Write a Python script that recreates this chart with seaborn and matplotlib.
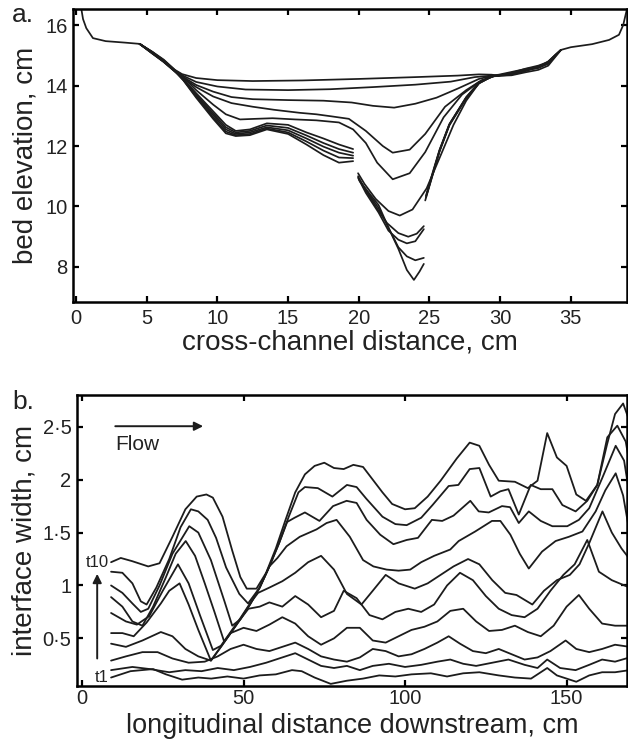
import numpy as np
import matplotlib
matplotlib.use("Agg")
import matplotlib.pyplot as plt
import seaborn as sns

# ---------------- Panel a data: cross-channel bed profiles ----------------
bank_left_x = [0.37, 0.5, 0.73, 1.2, 2.1, 3.5, 4.5]
bank_left_y = [16.56, 16.2, 15.9, 15.57, 15.47, 15.42, 15.38]
bank_right_x = [29.9, 30.8, 31.8, 32.7, 33.2, 33.9, 34.3, 35.0, 36.5, 37.7, 38.4, 38.7, 38.95]
bank_right_y = [14.33, 14.4, 14.52, 14.58, 14.69, 15.02, 15.18, 15.27, 15.37, 15.51, 15.68, 16.0, 16.5]

prof1_x = [4.5, 5.4, 6.2, 7.0, 7.5, 8.5, 10, 12.5, 16, 20, 24, 27, 28.5, 29.4, 29.9]
prof1_y = [15.38, 15.12, 14.86, 14.52, 14.38, 14.25, 14.18, 14.15, 14.17, 14.22, 14.28, 14.33, 14.37, 14.36, 14.33]
prof2_x = [4.5, 5.4, 6.2, 7.0, 7.6, 8.5, 10, 12, 15, 18, 21, 24, 26.5, 28.2, 29.4, 29.9, 30.8, 31.8, 32.7, 33.4, 34.3]
prof2_y = [15.38, 15.08, 14.82, 14.5, 14.32, 14.12, 13.97, 13.87, 13.85, 13.88, 13.95, 14.03, 14.13, 14.28, 14.33, 14.36, 14.45, 14.55, 14.62, 14.8, 15.18]
prof3_x = [4.5, 5.4, 6.2, 7.0, 7.6, 8.5, 9.7, 11, 12.5, 15, 17.5, 19.5, 21, 22.5, 24, 25.5, 27, 28.5, 29.4, 29.9]
prof3_y = [15.38, 15.1, 14.8, 14.48, 14.28, 14.02, 13.8, 13.62, 13.55, 13.52, 13.5, 13.44, 13.33, 13.27, 13.4, 13.6, 13.9, 14.22, 14.32, 14.33]
prof4_x = [4.5, 5.4, 6.2, 7.0, 7.6, 8.5, 9.7, 11, 12.5, 14, 15.8, 17, 18.1, 19.3, 20.5, 21.7, 22.4, 23.6, 24.7, 26.1, 27.6, 28.7, 29.6, 30.8, 31.8, 32.7, 33.4, 34.3]
prof4_y = [15.38, 15.06, 14.78, 14.46, 14.25, 13.95, 13.64, 13.42, 13.3, 13.2, 13.1, 13.05, 12.98, 12.9, 12.5, 12.0, 11.78, 11.88, 12.4, 13.3, 13.85, 14.18, 14.32, 14.34, 14.44, 14.52, 14.66, 15.18]
prof5_x = [4.5, 5.4, 6.2, 7.0, 7.6, 8.5, 9.7, 10.6, 11.6, 12.7, 13.9, 15.5, 17, 18.6, 19.6, 20.5, 21.3, 22.4, 23.6, 24.7, 26.0, 27.3, 28.5, 29.5]
prof5_y = [15.38, 15.1, 14.84, 14.5, 14.27, 13.85, 13.37, 13.05, 12.88, 12.9, 12.92, 12.88, 12.85, 12.78, 12.55, 12.1, 11.45, 10.9, 11.1, 11.8, 12.95, 13.7, 14.12, 14.3]
prof6_x = [4.5, 5.4, 6.2, 7.0, 7.6, 8.5, 9.7, 10.6, 11.3, 12.3, 13.5, 15, 16.3, 17.5, 18.6, 19.6, np.nan, 19.95, 20.4, 21.2, 22.1, 22.9, 23.8, 24.8, 25.8, 26.7, 27.6, 28.5, 29.4, 30.8, 31.8, 32.7, 33.4, 34.3]
prof6_y = [15.38, 15.08, 14.8, 14.47, 14.22, 13.75, 13.15, 12.7, 12.5, 12.55, 12.75, 12.7, 12.45, 12.25, 12.05, 11.9, np.nan, 11.1, 10.75, 10.25, 9.85, 9.7, 9.9, 10.6, 11.7, 12.7, 13.5, 14.08, 14.3, 14.36, 14.48, 14.6, 14.72, 15.18]
prof7_x = [4.5, 5.4, 6.2, 7.0, 7.6, 8.5, 9.7, 10.6, 11.3, 12.3, 13.5, 15, 16.3, 17.5, 18.6, 19.6, np.nan, 19.95, 20.4, 21.2, 22.0, 22.8, 23.5, 24.1, 24.6, np.nan, 24.75, 25.2, 25.7, 26.4, 27.6, 28.5, 29.4]
prof7_y = [15.38, 15.1, 14.82, 14.49, 14.2, 13.7, 13.08, 12.62, 12.45, 12.5, 12.68, 12.6, 12.35, 12.1, 11.9, 11.78, np.nan, 11.0, 10.6, 10.0, 9.45, 9.12, 9.0, 9.1, 9.35, np.nan, 10.3, 11.05, 11.83, 12.7, 13.6, 14.08, 14.3]
prof8_x = [4.5, 5.4, 6.2, 7.0, 7.6, 8.5, 9.7, 10.6, 11.3, 12.3, 13.5, 15, 16.3, 17.5, 18.6, 19.6, np.nan, 19.95, 20.5, 21.4, 22.1, 22.8, 23.4, 24.0, 24.6, np.nan, 24.8, 25.25, 25.75, 26.45, 27.6, 28.5, 29.4, 30.8, 31.8, 32.7, 33.4, 34.3]
prof8_y = [15.38, 15.06, 14.79, 14.47, 14.18, 13.66, 13.02, 12.55, 12.4, 12.45, 12.62, 12.52, 12.25, 11.98, 11.78, 11.68, np.nan, 10.95, 10.45, 9.8, 9.2, 8.9, 8.78, 8.85, 9.25, np.nan, 10.4, 11.1, 11.9, 12.75, 13.62, 14.1, 14.3, 14.42, 14.56, 14.66, 14.78, 15.18]
prof9_x = [4.5, 5.4, 6.2, 7.0, 7.6, 8.5, 9.7, 10.6, 11.3, 12.3, 13.5, 15, 16.3, 17.5, 18.6, 19.6, np.nan, 20.0, 20.8, 21.4, 22.1, 22.8, 23.4, 24.0, 24.6, np.nan, 24.7, 25.2, 25.7, 26.4, 27.6, 28.5, 29.4]
prof9_y = [15.38, 15.11, 14.83, 14.5, 14.19, 13.64, 12.95, 12.48, 12.36, 12.4, 12.58, 12.45, 12.15, 11.85, 11.62, 11.6, np.nan, 10.9, 10.35, 9.95, 9.3, 8.65, 8.35, 8.22, 8.3, np.nan, 10.2, 11.0, 11.8, 12.68, 13.58, 14.07, 14.3]
prof10_x = [4.5, 5.4, 6.2, 7.0, 7.6, 8.5, 9.7, 10.6, 11.3, 12.3, 13.5, 15, 16.3, 17.5, 18.6, 19.6, np.nan, 20.05, 20.8, 21.4, 22.1, 22.8, 23.4, 23.9, 24.3, 24.6, np.nan, 24.75, 25.2, 25.7, 26.4, 27.6, 28.5, 29.4, 30.8, 31.8, 32.7, 33.4, 34.3]
prof10_y = [15.38, 15.07, 14.8, 14.48, 14.17, 13.6, 12.9, 12.42, 12.33, 12.36, 12.55, 12.4, 12.05, 11.7, 11.45, 11.5, np.nan, 10.85, 10.4, 10.05, 9.3, 8.6, 7.9, 7.57, 7.85, 8.1, np.nan, 10.35, 11.08, 11.86, 12.72, 13.6, 14.1, 14.3, 14.4, 14.5, 14.64, 14.74, 15.18]

profiles_x = [bank_left_x, bank_right_x, prof1_x, prof2_x, prof3_x, prof4_x, prof5_x,
              prof6_x, prof7_x, prof8_x, prof9_x, prof10_x]
profiles_y = [bank_left_y, bank_right_y, prof1_y, prof2_y, prof3_y, prof4_y, prof5_y,
              prof6_y, prof7_y, prof8_y, prof9_y, prof10_y]

a_xticks = [0, 5, 10, 15, 20, 25, 30, 35]
a_yticks = [8, 10, 12, 14, 16]

# ---------------- Panel b data: interface width, t1..t10 ----------------
t1_x = [9, 15, 22, 26, 31, 36, 40, 45, 50, 55, 60, 65, 68, 72, 77, 82, 87, 92, 97, 102, 108, 113, 118, 123, 129, 134, 139, 144, 147, 150, 153, 157, 161, 165, 169.5]
t1_y = [0.13, 0.19, 0.21, 0.16, 0.11, 0.13, 0.12, 0.14, 0.12, 0.15, 0.16, 0.20, 0.19, 0.13, 0.07, 0.10, 0.12, 0.15, 0.14, 0.16, 0.17, 0.14, 0.17, 0.18, 0.15, 0.13, 0.12, 0.22, 0.15, 0.12, 0.09, 0.15, 0.18, 0.18, 0.20]
t2_x = [9, 15.6, 21, 27, 32, 37, 42, 47, 52, 57, 62, 66, 70, 74, 78, 82, 86, 90, 95, 100, 105, 110, 114, 118, 122, 127, 132, 137, 141, 144, 148, 152.8, 157, 161, 165, 169.5]
t2_y = [0.20, 0.23, 0.21, 0.18, 0.20, 0.19, 0.22, 0.20, 0.23, 0.27, 0.32, 0.36, 0.30, 0.24, 0.22, 0.24, 0.20, 0.24, 0.26, 0.23, 0.25, 0.28, 0.30, 0.26, 0.24, 0.27, 0.30, 0.25, 0.22, 0.30, 0.22, 0.20, 0.25, 0.30, 0.28, 0.32]
t3_x = [9, 13.6, 18.7, 23.4, 28, 33, 38, 42, 46, 50, 54, 58, 62, 66, 70, 74, 78, 82, 86, 90, 94, 98, 102, 106, 110, 113.5, 117, 121, 125, 129, 133, 137, 141, 145, 149.7, 153, 157, 161, 165, 169.5]
t3_y = [0.29, 0.33, 0.37, 0.37, 0.31, 0.27, 0.28, 0.33, 0.40, 0.44, 0.40, 0.38, 0.42, 0.46, 0.40, 0.33, 0.30, 0.28, 0.32, 0.40, 0.38, 0.33, 0.35, 0.40, 0.46, 0.52, 0.45, 0.38, 0.36, 0.40, 0.35, 0.30, 0.32, 0.38, 0.48, 0.40, 0.37, 0.40, 0.44, 0.42]
t4_x = [9, 13.6, 18.7, 24.4, 28, 32, 36, 39.9, 43, 46, 50, 54, 58, 62, 66, 70, 74, 78, 82, 86, 90, 94, 98, 102, 106, 110, 114, 118, 122, 126, 130, 134, 138, 142, 146, 150, 153.8, 157, 161, 165, 169.5]
t4_y = [0.45, 0.42, 0.48, 0.56, 0.52, 0.40, 0.33, 0.29, 0.42, 0.55, 0.60, 0.57, 0.63, 0.70, 0.64, 0.52, 0.44, 0.50, 0.60, 0.60, 0.48, 0.46, 0.52, 0.58, 0.61, 0.66, 0.76, 0.78, 0.66, 0.57, 0.58, 0.62, 0.56, 0.52, 0.62, 0.80, 0.91, 0.78, 0.64, 0.62, 0.62]
t5_x = [9, 12.5, 16, 20, 24.4, 27, 30.2, 33, 36, 39.9, 43, 46, 49, 51.5, 55, 58, 62, 66, 70, 74, 78, 81, 85, 89, 93, 97, 101, 105, 109, 113, 117, 121, 125, 129, 133, 137, 141, 145, 149, 152.5, 156.4, 160, 164, 169.5]
t5_y = [0.55, 0.55, 0.52, 0.65, 0.83, 0.95, 1.02, 0.82, 0.58, 0.29, 0.42, 0.55, 0.68, 0.78, 0.80, 0.84, 0.80, 0.90, 0.82, 0.70, 0.76, 0.95, 0.88, 0.72, 0.68, 0.75, 0.78, 0.75, 0.82, 1.00, 1.12, 1.05, 0.90, 0.78, 0.72, 0.70, 0.78, 0.95, 1.10, 1.20, 1.43, 1.13, 1.05, 0.98]
t6_x = [9, 13.6, 17, 20.8, 25, 29.7, 33, 36.5, 40.5, 43, 46, 49, 52, 54.5, 58, 62, 66, 70, 74, 78, 82, 86.5, 90, 94, 98, 103, 107, 111, 115, 119.5, 123, 127, 131, 134.5, 139.4, 143, 147, 151, 154, 157, 161.1, 164, 167, 169.5]
t6_y = [0.74, 0.66, 0.63, 0.71, 0.95, 1.20, 1.02, 0.72, 0.39, 0.43, 0.56, 0.69, 0.83, 0.93, 0.98, 1.04, 1.12, 1.22, 1.28, 1.15, 0.92, 0.82, 0.95, 1.10, 1.02, 0.97, 1.02, 1.10, 1.18, 1.25, 1.20, 1.05, 0.93, 0.91, 0.82, 0.95, 1.05, 1.10, 1.20, 1.40, 1.70, 1.50, 1.35, 1.25]
t7_x = [9, 12.5, 15.6, 18.7, 22, 26, 29, 32.1, 35, 38, 41, 44, 46, 49, 52, 55, 58, 60.5, 63.3, 67.4, 72.6, 75.7, 78.8, 82.9, 87, 90.2, 94.3, 98, 101.6, 105, 109, 114, 116.6, 121.7, 126.9, 129.5, 132.6, 135.5, 138.3, 142.4, 146.6, 150.7, 154.9, 159, 162, 165.2, 167.5, 169.5]
t7_y = [0.89, 0.80, 0.66, 0.62, 0.80, 1.08, 1.30, 1.42, 1.28, 1.02, 0.75, 0.47, 0.55, 0.68, 0.82, 0.98, 1.18, 1.26, 1.37, 1.46, 1.53, 1.59, 1.62, 1.46, 1.24, 1.18, 1.15, 1.14, 1.15, 1.22, 1.28, 1.34, 1.42, 1.51, 1.61, 1.61, 1.48, 1.30, 1.16, 1.32, 1.42, 1.46, 1.51, 1.70, 1.90, 2.06, 1.85, 1.50]
t8_x = [9, 12.5, 15.6, 18.2, 20.5, 24, 28, 33.2, 36, 39.9, 44.1, 46.5, 49, 52, 55, 58, 61, 63.5, 65.8, 69, 73.5, 77.7, 81.9, 85, 88.1, 92.3, 96.4, 100.5, 104, 108.3, 111.5, 115, 120.2, 122.8, 125.9, 130, 132.5, 135.2, 138.3, 142, 145.6, 150.2, 153.8, 157, 161.1, 165.2, 167.8, 169.5]
t8_y = [1.0, 0.93, 0.83, 0.75, 0.78, 1.0, 1.3, 1.56, 1.50, 1.24, 0.85, 0.62, 0.68, 0.82, 0.98, 1.18, 1.40, 1.60, 1.64, 1.69, 1.61, 1.75, 1.80, 1.78, 1.62, 1.48, 1.39, 1.43, 1.45, 1.62, 1.61, 1.66, 1.80, 1.70, 1.69, 1.75, 1.74, 1.59, 1.70, 1.61, 1.56, 1.56, 1.62, 1.73, 2.02, 2.32, 2.18, 1.85]
t9_x = [9, 12.5, 15.6, 18.2, 20, 23, 27, 30.5, 33.7, 36, 38.9, 41.5, 44.6, 48.7, 51.4, 55, 58, 61, 64, 67, 69, 73, 77.5, 82, 85, 88, 93, 97, 100.5, 105, 108.5, 113.5, 116.5, 120, 123, 126.5, 129.5, 132, 135.2, 138.9, 142, 145.6, 148.7, 152.8, 156.4, 159.5, 162.6, 165.7, 168.3, 169.5]
t9_y = [1.13, 1.12, 1.02, 0.85, 0.82, 0.98, 1.25, 1.55, 1.72, 1.70, 1.62, 1.45, 1.17, 0.92, 0.83, 0.98, 1.18, 1.40, 1.65, 1.88, 1.93, 1.92, 1.84, 1.95, 1.93, 1.82, 1.65, 1.58, 1.57, 1.64, 1.76, 1.94, 1.95, 2.10, 2.11, 1.84, 1.89, 1.91, 1.67, 1.95, 1.91, 1.91, 1.76, 1.70, 1.80, 1.95, 2.40, 2.51, 2.36, 2.15]
t10_x = [9, 12, 15.5, 20.5, 24, 28, 32, 35.5, 38.5, 40.5, 43.5, 46.5, 49, 51, 54, 57, 60, 63, 66, 69, 72, 75, 78, 81, 84, 87, 90, 93, 96, 100, 103, 107, 111, 116, 120, 123, 126, 129, 134, 138, 141, 144, 147, 150, 153, 156, 159.5, 162.5, 165, 167.5, 169.5]
t10_y = [1.22, 1.26, 1.23, 1.18, 1.21, 1.46, 1.72, 1.84, 1.86, 1.83, 1.65, 1.33, 1.08, 0.97, 0.97, 1.12, 1.35, 1.62, 1.88, 2.05, 2.13, 2.16, 2.11, 2.10, 2.14, 2.12, 2.0, 1.88, 1.77, 1.72, 1.73, 1.84, 1.99, 2.2, 2.35, 2.32, 2.14, 1.99, 1.98, 1.92, 1.99, 2.44, 2.21, 2.13, 1.86, 1.80, 1.95, 2.33, 2.62, 2.72, 2.55]

widths_x = [t1_x, t2_x, t3_x, t4_x, t5_x, t6_x, t7_x, t8_x, t9_x, t10_x]
widths_y = [t1_y, t2_y, t3_y, t4_y, t5_y, t6_y, t7_y, t8_y, t9_y, t10_y]

b_xticks = [0, 50, 100, 150]
b_yticks = [0.5, 1, 1.5, 2, 2.5]
b_yticklabels = ["0\u00b75", "1", "1\u00b75", "2", "2\u00b75"]

# ---------------- Styling ----------------
sns.set_theme(style="ticks")
plt.rcParams['font.family'] = ['Liberation Sans', 'DejaVu Sans']
LINE = "#1c1c1c"
TXT = "#222222"

fig = plt.figure(figsize=(6.28, 7.40), dpi=100)
ax_a = fig.add_axes([73/628, 1-302/740, 554/628, 293.5/740])
ax_b = fig.add_axes([77/628, 1-686/740, 550/628, 291/740])


def draw_segments(ax, xs, ys, lw):
    xs = np.asarray(xs, dtype=float)
    ys = np.asarray(ys, dtype=float)
    breaks = np.where(np.isnan(xs))[0]
    starts = np.concatenate(([0], breaks + 1))
    ends = np.concatenate((breaks, [len(xs)]))
    for s, e in zip(starts, ends):
        if e - s >= 2:
            sns.lineplot(x=xs[s:e], y=ys[s:e], ax=ax, color=LINE, linewidth=lw,
                         sort=False, estimator=None, legend=False)


for xs, ys in zip(profiles_x, profiles_y):
    draw_segments(ax_a, xs, ys, 1.25)
for xs, ys in zip(widths_x, widths_y):
    draw_segments(ax_b, xs, ys, 1.3)


def style_axes(ax, xpad):
    for sp in ax.spines.values():
        sp.set_visible(True)
        sp.set_linewidth(1.8)
        sp.set_color("black")
    ax.tick_params(direction="in", length=4.5, width=1.6, top=True, right=True,
                   labelsize=14.5, colors="black", labelcolor=TXT)
    ax.tick_params(axis="x", pad=xpad)
    ax.tick_params(axis="y", pad=4)


style_axes(ax_a, 5)
ax_a.set_xlim(-0.21, 38.97)
ax_a.set_ylim(6.84, 16.55)
ax_a.set_xticks(a_xticks)
ax_a.set_yticks(a_yticks)
ax_a.set_xlabel("cross-channel distance, cm", fontsize=20, color=TXT)
ax_a.set_ylabel("bed elevation, cm", fontsize=20, color=TXT)
ax_a.xaxis.set_label_coords(0.5, -0.095)
ax_a.yaxis.set_label_coords(-0.062, 0.5)

style_axes(ax_b, 2.5)
ax_b.set_xlim(-1.55, 168.7)
ax_b.set_ylim(0.05, 2.80)
ax_b.set_xticks(b_xticks)
ax_b.set_yticks(b_yticks)
ax_b.set_yticklabels(b_yticklabels)
ax_b.set_xlabel("longitudinal distance downstream, cm", fontsize=19.5, color=TXT)
ax_b.set_ylabel("interface width, cm", fontsize=20, color=TXT)
ax_b.xaxis.set_label_coords(0.5, -0.094)
ax_b.yaxis.set_label_coords(-0.072, 0.5)

# Flow arrow and label
ax_b.annotate("", xy=(37.5, 2.505), xytext=(10.3, 2.505),
              arrowprops=dict(arrowstyle="-|>", color=LINE, lw=1.4, mutation_scale=13,
                              shrinkA=0, shrinkB=0))
ax_b.text(10.3, 2.33, "Flow", fontsize=15, color=TXT, ha="left", va="center")
# time arrow and labels
ax_b.annotate("", xy=(4.7, 1.11), xytext=(4.7, 0.31),
              arrowprops=dict(arrowstyle="-|>", color=LINE, lw=1.4, mutation_scale=13,
                              shrinkA=0, shrinkB=0))
ax_b.text(8.3, 1.215, "t10", fontsize=12, color=TXT, ha="right", va="center")
ax_b.text(8.3, 0.13, "t1", fontsize=12, color=TXT, ha="right", va="center")

fig.text(12/628, 1-15/740, "a.", fontsize=19, color=TXT, ha="left", va="center")
fig.text(12/628, 1-402/740, "b.", fontsize=19, color=TXT, ha="left", va="center")

fig.savefig("out.png", dpi=100, facecolor="white")
